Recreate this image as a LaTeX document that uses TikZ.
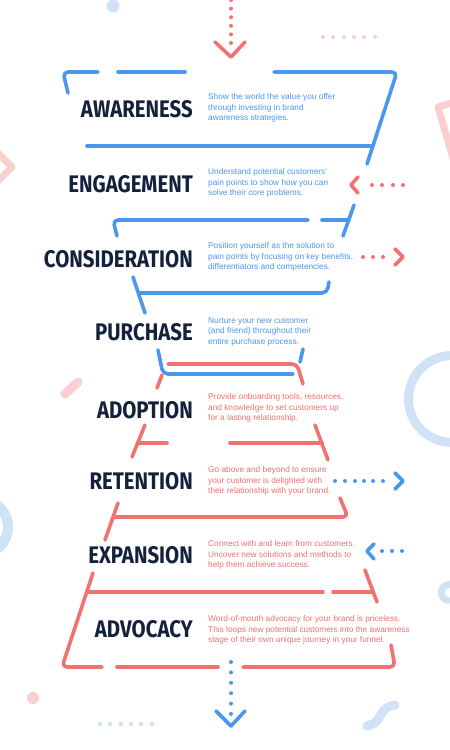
\documentclass[tikz,border=0pt]{standalone}
\usepackage{fontspec}
\setmainfont{Liberation Sans}
\newfontfamily\headfont{Fira Sans}[FakeStretch=0.85]
\definecolor{fblue}{HTML}{4C97EE}
\definecolor{fred}{HTML}{F27171}
\definecolor{navy}{HTML}{14213D}
\definecolor{lblue}{HTML}{CFE2F6}
\definecolor{lpink}{HTML}{F9CFCF}
\begin{document}
\begin{tikzpicture}[x=1pt,y=-1pt,
  fl/.style={line width=3.6pt, line cap=round, line join=round, rounded corners=5pt},
  chev/.style={line width=3.6pt, line cap=round, line join=round},
  head/.style={anchor=base east, inner sep=0pt, text=navy, font=\headfont\bfseries\fontsize{24}{24}\selectfont},
  desc/.style={anchor=west, align=left, inner sep=0pt, font=\fontsize{8.3}{10.6}\selectfont},
  deco/.style={line cap=round, line join=round}]
\useasboundingbox (0,0) rectangle (450,750);
\fill[white] (0,0) rectangle (450,750);

% ---------- background decorations ----------
\begin{scope}
\clip (0,0) rectangle (450,750);
\fill[lblue] (113,6) circle (6.5pt);
\foreach \x in {323,333,344,354,364,375} \fill[lpink] (\x,37) circle (2pt);
\draw[lpink, line width=7pt, deco] (458,101) -- (438,107) -- (456,168);
\draw[lpink, line width=7pt, deco] (-12,143) -- (12,167) -- (-12,191);
\draw[lpink, line width=9pt, deco] (65,394) -- (78,382);
\draw[lblue, line width=9pt] (452,399) circle (43.5pt);
\draw[lblue, line width=10pt] (-20,527) circle (28pt);
\draw[lblue, line width=7pt, deco] (452,585) arc[start angle=70, end angle=260, radius=8pt];
\fill[lpink] (33,698) circle (6pt);
\foreach \x in {100,110,121,131,141,152} \fill[lblue] (\x,724) circle (2.3pt);
\draw[lblue, line width=9pt, deco] (367,726) .. controls (385,722) and (376,708) .. (395,705);
\end{scope}

% ---------- top arrow ----------
\foreach \y in {0,8.6,17.2,25.8,34.4,43} \fill[fred] (231,\y) circle (2pt);
\coordinate (topL) at (215,42); \coordinate (topT) at (231,57); \coordinate (topR) at (245,42);
\draw[fred, chev] (topL) -- (topT) -- (topR);

% ---------- blue funnel ----------
\draw[fblue, fl] (68,93) -- (63,72) -- (98,72);
\draw[fblue, fl] (118,72) -- (185,72);
\draw[fblue, fl] (274,72) -- (397,72) -- (367,164);
\draw[fblue, fl] (87,146) -- (373,146);
\draw[fblue, fl] (354,205) -- (343,236);
\draw[fblue, fl] (117,236) -- (113,220) -- (308,220);
\draw[fblue, fl] (322,220) -- (348,220);
\draw[fblue, fl] (133,277) -- (145,313);
\draw[fblue, fl] (139,293) -- (327,293) -- (329,282);
\draw[fblue, fl] (158,350) -- (163,374) -- (293,374);
\draw[fblue, fl] (303,349) -- (300,362);

% ---------- red funnel ----------
\draw[fred, fl] (168,364) -- (297,364) -- (303,384);
\draw[fred, fl] (162,375) -- (157,388);
\draw[fred, fl] (145,425) -- (132,457);
\draw[fred, fl] (138,443) -- (167,443);
\draw[fred, fl] (230,443) -- (322,443);
\draw[fred, fl] (315,425) -- (328,460);
\draw[fred, fl] (118,503) -- (105,540);
\draw[fred, fl] (113,517) -- (348,517) -- (340,498);
\draw[fred, fl] (93,573) -- (62,667) -- (102,667);
\draw[fred, fl] (87,592) -- (323,592);
\draw[fred, fl] (333,592) -- (373,592);
\draw[fred, fl] (365,570) -- (377,602);
\draw[fred, fl] (117,667) -- (218,667);
\draw[fred, fl] (243,667) -- (395,667) -- (391,645);

% ---------- side arrows ----------
% engagement (red, pointing left)
\foreach \x in {372,382,393,403} \fill[fred] (\x,185) circle (2pt);
\coordinate (engA) at (358,177); \coordinate (engT) at (351,185); \coordinate (engB) at (358,193);
\draw[fred, chev] (engA) -- (engT) -- (engB);
% consideration (red, pointing right)
\foreach \x in {363,373,383} \fill[fred] (\x,257) circle (2pt);
\coordinate (conA) at (395,249); \coordinate (conT) at (403,257); \coordinate (conB) at (395,265);
\draw[fred, chev] (conA) -- (conT) -- (conB);
% retention (blue, pointing right)
\foreach \x in {335,345,355,364,373,383} \fill[fblue] (\x,481) circle (2pt);
\coordinate (retA) at (395,473); \coordinate (retT) at (403,481); \coordinate (retB) at (395,489);
\draw[fblue, chev] (retA) -- (retT) -- (retB);
% expansion (blue, pointing left)
\foreach \x in {382,392,402} \fill[fblue] (\x,551) circle (2pt);
\coordinate (expA) at (374,544); \coordinate (expT) at (367,551); \coordinate (expB) at (374,559);
\draw[fblue, chev] (expA) -- (expT) -- (expB);

% ---------- bottom arrow ----------
\foreach \y in {662,672.4,682.8,693.2,703.6,714} \fill[fblue] (231,\y) circle (2pt);
\coordinate (botL) at (216,711); \coordinate (botT) at (231,726); \coordinate (botR) at (245,711);
\draw[fblue, chev] (botL) -- (botT) -- (botR);

% ---------- headings ----------
\node[head] (awareness) at (193,117) {AWARENESS};
\node[head] (engagement) at (193,192) {ENGAGEMENT};
\node[head] (consideration) at (193,267) {CONSIDERATION};
\node[head] (purchase) at (193,340) {PURCHASE};
\node[head] (adoption) at (193,418) {ADOPTION};
\node[head] (retention) at (193,489) {RETENTION};
\node[head] (expansion) at (193,563) {EXPANSION};
\node[head] (advocacy) at (193,637) {ADVOCACY};

% ---------- descriptions ----------
\node[desc, text=fblue] (awarenessTxt) at (208,108) {Show the world the value you offer\\through investing in brand\\awareness strategies.};
\node[desc, text=fblue] (engagementTxt) at (208,183) {Understand potential customers'\\pain points to show how you can\\solve their core problems.};
\node[desc, text=fblue] (considerationTxt) at (208,257) {Position yourself as the solution to\\pain points by focusing on key benefits,\\differentiators and competencies.};
\node[desc, text=fblue] (purchaseTxt) at (208,332) {Nurture your new customer\\(and friend) throughout their\\entire purchase process.};
\node[desc, text=fred] (adoptionTxt) at (208,408) {Provide onboarding tools, resources,\\and knowledge to set customers up\\for a lasting relationship.};
\node[desc, text=fred] (retentionTxt) at (208,481) {Go above and beyond to ensure\\your customer is delighted with\\their relationship with your brand.};
\node[desc, text=fred] (expansionTxt) at (208,555) {Connect with and learn from customers.\\Uncover new solutions and methods to\\help them achieve success.};
\node[desc, text=fred] (advocacyTxt) at (208,630) {Word-of-mouth advocacy for your brand is priceless.\\This loops new potential customers into the awareness\\stage of their own unique journey in your funnel.};
\end{tikzpicture}
\end{document}
